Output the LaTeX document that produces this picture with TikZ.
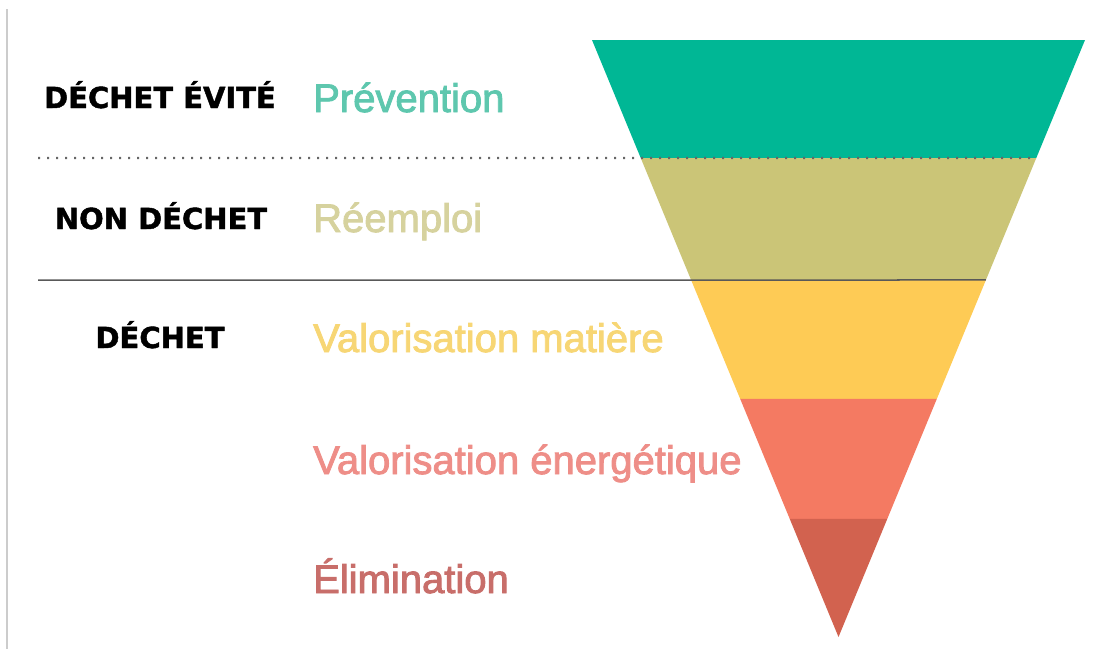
\documentclass[tikz,border=0pt]{standalone}
\usepackage{fontspec}
\setmainfont{Liberation Sans}
\newfontfamily\levelfont{Liberation Sans}[RawFeature={embolden=2.2}]
\newfontfamily\catfont{DejaVu Sans}[FakeBold=1.5]
\usetikzlibrary{calc}
\definecolor{prevband}{RGB}{0,183,149}
\definecolor{reemband}{RGB}{203,197,119}
\definecolor{matband}{RGB}{254,203,85}
\definecolor{enband}{RGB}{244,122,98}
\definecolor{elimband}{RGB}{210,98,79}
\definecolor{prevtext}{RGB}{94,199,174}
\definecolor{reemtext}{RGB}{214,210,158}
\definecolor{mattext}{RGB}{247,214,117}
\definecolor{entext}{RGB}{238,142,136}
\definecolor{elimtext}{RGB}{200,110,106}

\begin{document}
\begin{tikzpicture}[x=1pt, y=-1pt,
        level/.style={anchor=base west, inner sep=0pt, font=\levelfont\fontsize{40}{48}\selectfont},
        category/.style={anchor=base, inner sep=0pt, font=\catfont\bfseries\fontsize{29}{34}\selectfont}]
        \useasboundingbox (0,0) rectangle (1094,649);
        \newcommand{\drawband}[3]{
            \fill [#3] ($(tl)!#1!(apex)$) -- ($(tr)!#1!(apex)$) -- ($(tr)!#2!(apex)$) -- ($(tl)!#2!(apex)$) -- cycle;
        }
        \coordinate (tl) at (592,40);
        \coordinate (tr) at (1085,40);
        \coordinate (apex) at (838.5,637);

        \drawband{0}{0.1977}{prevband}
        \drawband{0.1977}{0.4020}{reemband}
        \drawband{0.4020}{0.6013}{matband}
        \drawband{0.6013}{0.8023}{enband}
        \drawband{0.8023}{1}{elimband}

        \draw [black!20, line width=1.5pt] (7,9) -- (7,649);

        \coordinate (dotstart) at (38,158);
        \coordinate (dotend) at ($(tr)!0.1977!(apex)$);
        \draw [black!60, line width=2.2pt, dash pattern=on 2pt off 7pt] (dotstart) -- (dotend);
        \coordinate (linestart) at (38,280);
        \coordinate (lineend) at ($(tr)!0.4020!(apex)$);
        \draw [black!65, line width=1.5pt] (linestart) -- (lineend);

        \node[category] (evite) at (160,108) {DÉCHET ÉVITÉ};
        \node[category] (nondechet) at (161,229) {NON DÉCHET};
        \node[category] (dechet) at (160,348) {DÉCHET};

        \node[level, text=prevtext] (prevention) at (313,112) {Prévention};
        \node[level, text=reemtext] (reemploi) at (313,232) {Réemploi};
        \node[level, text=mattext] (matiere) at (313,352) {Valorisation matière};
        \node[level, text=entext] (energetique) at (313,474) {Valorisation énergétique};
        \node[level, text=elimtext] (elimination) at (313,593) {Élimination};
    \end{tikzpicture}
\end{document}
